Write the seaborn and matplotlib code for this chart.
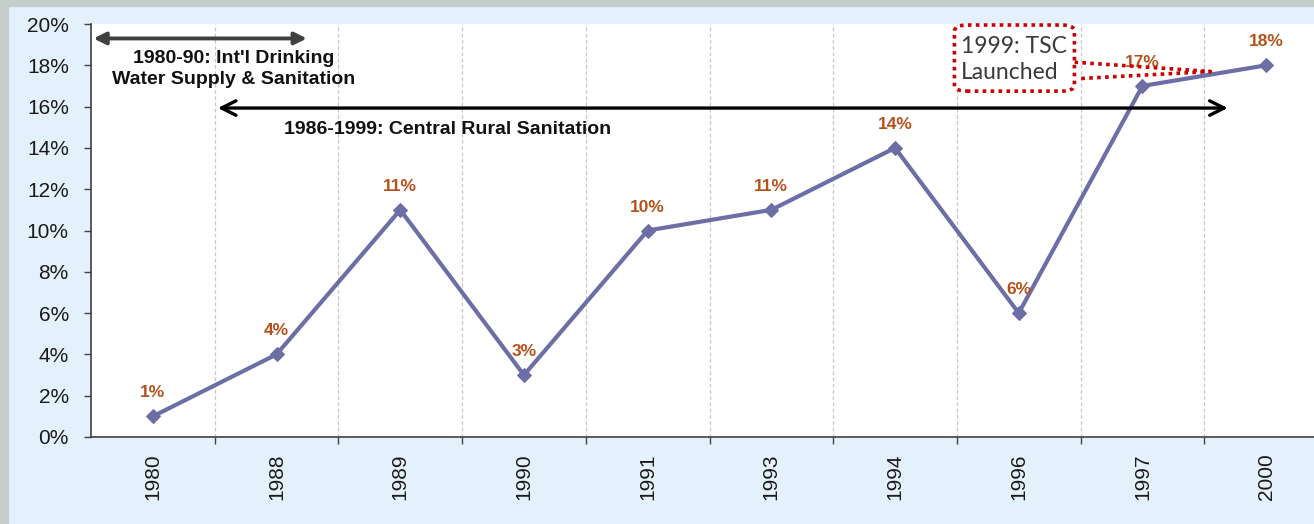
import matplotlib
matplotlib.use("Agg")
import matplotlib.pyplot as plt
import seaborn as sns
import pandas as pd
import numpy as np
from matplotlib.patches import Rectangle, FancyBboxPatch

years = ["1980", "1988", "1989", "1990", "1991", "1993", "1994", "1996", "1997", "2000"]
values = [1, 4, 11, 3, 10, 11, 14, 6, 17, 18]
labels = ["1%", "4%", "11%", "3%", "10%", "11%", "14%", "6%", "17%", "18%"]
yticks = [0, 2, 4, 6, 8, 10, 12, 14, 16, 18, 20]

sns.set_theme(style="white")
plt.rcParams['font.family'] = ['Liberation Sans', 'DejaVu Sans']

W, H = 1314, 524
fig = plt.figure(figsize=(W / 100, H / 100), dpi=100, facecolor="#e4f1fc")
# grey frame strips
fig.patches.append(Rectangle((0, 1 - 6 / H), 1, 6 / H, transform=fig.transFigure, color="#c4cfcb", zorder=0))
fig.patches.append(Rectangle((0, 0), 8 / W, 1, transform=fig.transFigure, color="#c4cfcb", zorder=0))

left, right, top, bottom = 91, 1328, 24, 437
ax = fig.add_axes([left / W, 1 - bottom / H, (right - left) / W, (bottom - top) / H])
ax.set_facecolor("white")

df = pd.DataFrame({"year": years, "value": values})
sns.lineplot(data=df, x="year", y="value", sort=False, ax=ax, color="#6e6ea6",
             linewidth=3, marker="D", markersize=7.5, markeredgecolor="#6e6ea6")

ax.set_xlim(-0.5, len(years) - 0.5)
ax.set_ylim(0, 20)
ax.set_yticks(yticks)
ax.set_yticklabels([f"{v}%" for v in yticks], fontsize=15, color="#1a1a1a")
ax.set_xticks(range(len(years)))
ax.set_xticklabels(years, rotation=90, fontsize=15, color="#1a1a1a")
ax.set_xticks(np.arange(0.5, len(years) - 0.5, 1), minor=True)
ax.tick_params(axis="x", which="major", length=0, pad=12)
ax.tick_params(axis="x", which="minor", length=5, width=1, color="#404040", direction="out", bottom=True)
ax.tick_params(axis="y", which="major", length=5, width=1, color="#404040", direction="out", left=True, pad=11)
ax.set_xlabel("")
ax.set_ylabel("")
for s in ["top", "right"]:
    ax.spines[s].set_visible(False)
for s in ["left", "bottom"]:
    ax.spines[s].set_color("#404040")
    ax.spines[s].set_linewidth(1.2)
ax.grid(False)
for xb in np.arange(0.5, len(years) - 0.5, 1):
    ax.axvline(xb, color="#c8c8c8", linestyle=(0, (3, 2)), linewidth=0.9, zorder=0)

# data labels
for i, (v, lab) in enumerate(zip(values, labels)):
    ax.annotate(lab, (i, v), xytext=(0, 11.5), textcoords="offset points", ha="center", va="bottom",
                fontsize=12.5, fontweight="bold", color="#b5521b")

# arrows
ax.annotate("", xy=(-0.48, 19.3), xytext=(1.245, 19.3),
            arrowprops=dict(arrowstyle="<|-|>", color="#404040", lw=2.8, mutation_scale=18,
                            shrinkA=0, shrinkB=0), annotation_clip=False)
ax.text(0.65, 17.8, "1980-90: Int'l Drinking\nWater Supply & Sanitation", ha="center", va="center",
        fontsize=14, fontweight="bold", color="#111111", linespacing=1.3)

ax.annotate("", xy=(0.525, 15.93), xytext=(8.69, 15.93),
            arrowprops=dict(arrowstyle="<->", color="black", lw=2.4, mutation_scale=26,
                            shrinkA=0, shrinkB=0), annotation_clip=False)
ax.text(2.385, 14.9, "1986-1999: Central Rural Sanitation", ha="center", va="center",
        fontsize=14, fontweight="bold", color="#111111")

# TSC callout
red = "#cc0000"
box = FancyBboxPatch((6.48, 16.75), 0.97, 3.2, boxstyle="round,pad=0,rounding_size=0.1",
                     mutation_aspect=3.0, fill=True, facecolor="white", edgecolor=red,
                     linestyle=(0, (1, 1.2)), linewidth=2.6, zorder=5, clip_on=False)
ax.add_patch(box)
ax.plot([7.45, 8.55, 7.47], [18.15, 17.7, 17.35], color=red, linestyle=(0, (1, 1.2)),
        linewidth=2.6, zorder=4)
ax.text(6.53, 18.3, "1999: TSC\nLaunched", ha="left", va="center", fontsize=16.5,
        color="#3a3a3a", family=["Lato", "DejaVu Sans"], linespacing=1.3, zorder=6)

fig.savefig("out.png", dpi=100, facecolor=fig.get_facecolor())
